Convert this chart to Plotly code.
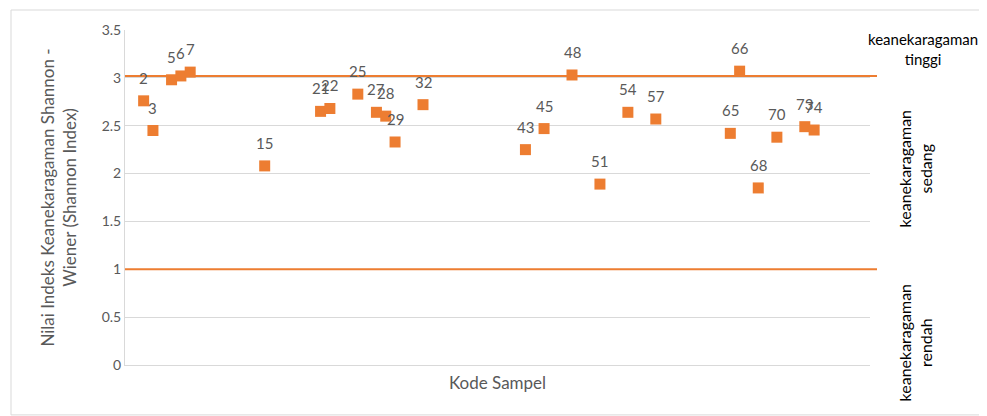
import plotly.graph_objects as go

# Data
sample_codes = [2, 3, 5, 6, 7, 15, 21, 22, 25, 27, 28, 29, 32, 43, 45, 48, 51, 54, 57, 65, 66, 68, 70, 73, 74]
shannon_index = [2.76, 2.45, 2.98, 3.02, 3.06, 2.08, 2.65, 2.68, 2.83, 2.64, 2.60, 2.33, 2.72,
                 2.25, 2.47, 3.03, 1.89, 2.64, 2.57, 2.42, 3.07, 1.85, 2.38, 2.49, 2.455]
threshold_values = [1.0, 3.02]
y_ticks = [0, 0.5, 1, 1.5, 2, 2.5, 3, 3.5]
y_tick_labels = ["0", "0.5", "1", "1.5", "2", "2.5", "3", "3.5"]
category_labels = ["keanekaragaman<br>tinggi", "keanekaragaman<br>sedang", "keanekaragaman<br>rendah"]

ORANGE = "#ED7D31"
GREY = "#595959"
FONT = "Lato"

fig = go.Figure()
fig.add_trace(go.Scatter(
    x=sample_codes, y=shannon_index, mode="markers",
    marker=dict(symbol="square", size=11, color=ORANGE),
    cliponaxis=False, hoverinfo="x+y", showlegend=False,
))

annotations = []
for code, val in zip(sample_codes, shannon_index):
    annotations.append(dict(x=code, y=val, xref="x", yref="y", text=str(code),
                            showarrow=False, yshift=23,
                            font=dict(family=FONT, size=15, color=GREY)))

# right-side category labels
annotations.append(dict(x=1.071, y=0.943, xref="paper", yref="paper", text=category_labels[0],
                        showarrow=False, xanchor="center", yanchor="middle",
                        font=dict(family=FONT, size=15, color="#000000")))
annotations.append(dict(x=1.061, y=(365 - 168) / 335, xref="paper", yref="paper", text=category_labels[1],
                        showarrow=False, textangle=-90, xanchor="center", yanchor="middle",
                        font=dict(family=FONT, size=16, color="#000000")))
annotations.append(dict(x=1.061, y=(365 - 342) / 335, xref="paper", yref="paper", text=category_labels[2],
                        showarrow=False, textangle=-90, xanchor="center", yanchor="middle",
                        font=dict(family=FONT, size=16, color="#000000")))

shapes = []
for t in threshold_values:
    shapes.append(dict(type="line", xref="paper", yref="y", x0=0, x1=1.0094, y0=t, y1=t,
                       line=dict(color=ORANGE, width=2)))
# outer chart border
shapes.append(dict(type="rect", xref="paper", yref="paper", x0=-0.153, x1=1.154, y0=-0.149, y1=1.0597,
                   line=dict(color="#D9D9D9", width=1), layer="below"))

fig.update_layout(
    width=979, height=408,
    margin=dict(l=117, r=117, t=22, b=51),
    paper_bgcolor="white", plot_bgcolor="white",
    annotations=annotations, shapes=shapes,
    font=dict(family=FONT, color=GREY),
    xaxis=dict(range=[0, 80], showticklabels=False, ticks="", showgrid=False, zeroline=False,
               showline=True, linecolor="#D9D9D9", linewidth=1,
               title=dict(text="Kode Sampel", font=dict(family=FONT, size=17, color=GREY), standoff=12)),
    yaxis=dict(range=[0, 3.5], tickvals=y_ticks, ticktext=y_tick_labels, showgrid=True,
               gridcolor="#D9D9D9", gridwidth=1, zeroline=False, showline=True,
               linecolor="#D9D9D9", linewidth=1, ticks="", ticklen=4,
               tickfont=dict(family=FONT, size=14, color=GREY),
               title=dict(text="Nilai Indeks Keanekaragaman Shannon -<br>Wiener (Shannon Index)",
                          font=dict(family=FONT, size=17, color=GREY), standoff=20)),
)

fig.write_html("out.html")
